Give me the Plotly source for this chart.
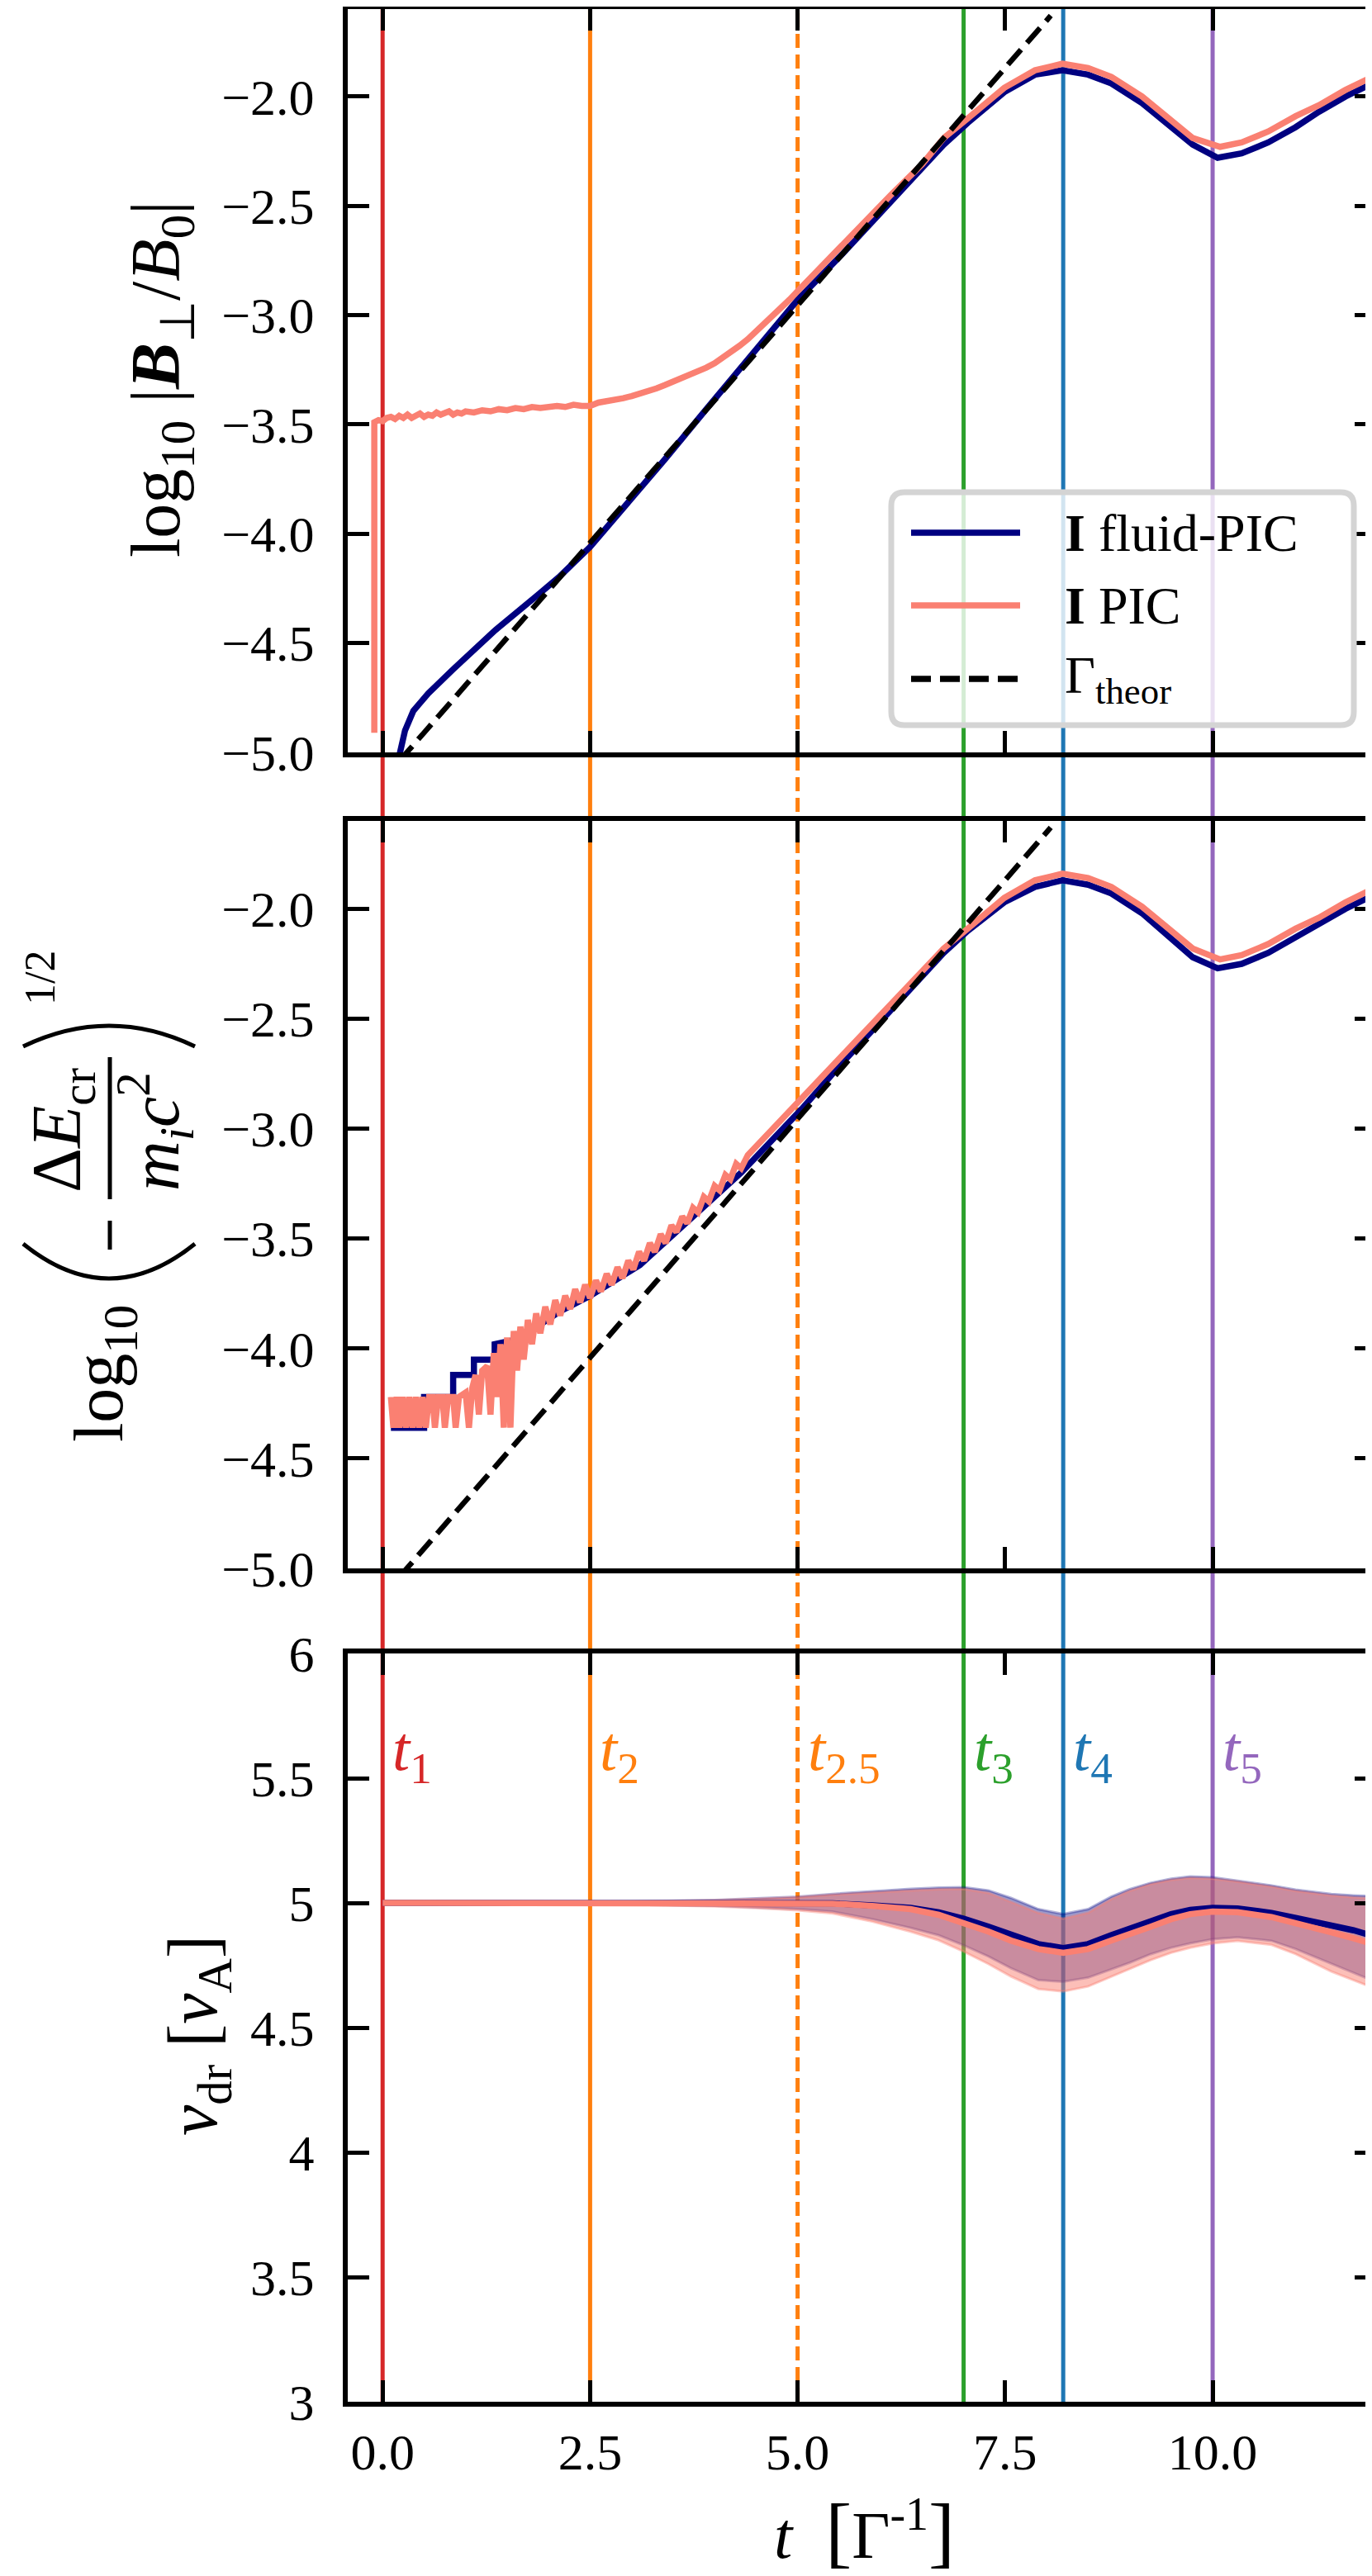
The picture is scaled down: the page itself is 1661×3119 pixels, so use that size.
import plotly.graph_objects as go

# ---------------- data ----------------
# top panel: log10 |B_perp / B0|
t_fluid_B = [0.18, 0.27, 0.37, 0.55, 0.85, 1.36, 1.87, 2.12, 2.50, 2.89, 3.40, 3.90, 4.41, 5.00,
             5.54, 6.15, 6.76, 7.05, 7.49, 7.86, 8.19, 8.50, 8.78, 9.15, 9.50, 9.76, 10.06,
             10.35, 10.67, 11.00, 11.28, 11.60, 11.98]
y_fluid_B = [-5.05, -4.90, -4.81, -4.73, -4.62, -4.44, -4.28, -4.20, -4.06, -3.89, -3.66, -3.43,
             -3.20, -2.93, -2.72, -2.47, -2.22, -2.12, -1.98, -1.90, -1.88, -1.90, -1.94, -2.03,
             -2.14, -2.22, -2.28, -2.26, -2.21, -2.14, -2.07, -2.00, -1.93]

t_pic_B = [-0.10, -0.10, -0.05, 0.00, 0.05, 0.10, 0.15, 0.20, 0.25, 0.30, 0.35, 0.40, 0.45, 0.50,
           0.55, 0.60, 0.65, 0.70, 0.75, 0.80, 0.85, 0.90, 0.95, 1.00, 1.10, 1.20, 1.30, 1.40,
           1.50, 1.60, 1.70, 1.80, 1.90, 2.00, 2.10, 2.20, 2.30, 2.40, 2.50, 2.60, 2.70, 2.80,
           2.90, 3.00, 3.10, 3.20, 3.30, 3.40, 3.50, 3.60, 3.70, 3.80, 3.90, 4.00, 4.10, 4.20,
           4.30, 4.40, 4.50, 4.60, 4.70, 4.80, 4.90, 5.00, 5.20, 5.50, 5.80, 6.15, 6.50, 6.76,
           7.05, 7.49, 7.86, 8.19, 8.50, 8.78, 9.15, 9.50, 9.76, 10.09, 10.35, 10.67, 11.00,
           11.28, 11.60, 11.98]
y_pic_B = [-4.91, -3.49, -3.48, -3.485, -3.47, -3.465, -3.475, -3.46, -3.47, -3.455, -3.47, -3.46,
           -3.45, -3.465, -3.455, -3.46, -3.445, -3.455, -3.45, -3.44, -3.455, -3.445, -3.45,
           -3.44, -3.445, -3.435, -3.44, -3.43, -3.435, -3.425, -3.43, -3.42, -3.425, -3.42,
           -3.415, -3.42, -3.41, -3.415, -3.415, -3.40, -3.395, -3.39, -3.38, -3.37, -3.36,
           -3.35, -3.335, -3.32, -3.305, -3.29, -3.275, -3.26, -3.24, -3.22, -3.195, -3.17,
           -3.14, -3.11, -3.075, -3.04, -3.005, -2.97, -2.93, -2.89, -2.81, -2.69, -2.575,
           -2.44, -2.31, -2.19, -2.10, -1.96, -1.88, -1.85, -1.87, -1.91, -2.00, -2.11, -2.19,
           -2.23, -2.21, -2.16, -2.09, -2.04, -1.97, -1.90]

# theoretical growth (straight line in log space)
t_theor = [0.20, 8.05]
y_theor = [-5.04, -1.63]

# middle panel: log10 (-dE_cr / m_i c^2)^(1/2)
t_fluid_E = [0.10, 0.50, 0.50, 0.85, 0.85, 1.10, 1.10, 1.35, 1.35, 1.60, 1.90, 2.14, 2.50, 3.10,
             3.71, 4.32, 5.05, 5.54, 6.15, 6.76, 7.05, 7.49, 7.86, 8.19, 8.50, 8.78, 9.15, 9.50,
             9.76, 10.06, 10.35, 10.67, 11.00, 11.28, 11.60, 11.98]
y_fluid_E = [-4.36, -4.36, -4.22, -4.22, -4.12, -4.12, -4.05, -4.05, -3.98, -3.96, -3.89, -3.83,
             -3.76, -3.62, -3.41, -3.20, -2.91, -2.70, -2.45, -2.20, -2.10, -1.97, -1.90, -1.87,
             -1.89, -1.93, -2.02, -2.13, -2.22, -2.27, -2.25, -2.20, -2.13, -2.07, -2.00, -1.93]

t_pic_E = [0.10, 0.13, 0.17, 0.20, 0.24, 0.28, 0.32, 0.36, 0.40, 0.44, 0.48, 0.52, 0.56, 0.60,
           0.63, 0.67, 0.72, 0.75, 0.79, 0.85, 0.88, 0.92, 1.00, 1.04, 1.08, 1.12, 1.16, 1.20,
           1.26, 1.30, 1.34, 1.38, 1.42, 1.46, 1.50, 1.54, 1.58, 1.62, 1.66, 1.70, 1.75, 1.80,
           1.85, 1.90, 1.96, 2.02, 2.08, 2.14, 2.20, 2.26, 2.32, 2.38, 2.44, 2.50, 2.57, 2.63,
           2.70, 2.76, 2.83, 2.89, 2.96, 3.02, 3.09, 3.15, 3.22, 3.28, 3.35, 3.41, 3.48, 3.54,
           3.61, 3.67, 3.74, 3.80, 3.87, 3.93, 4.00, 4.06, 4.13, 4.19, 4.26, 4.32, 4.40, 4.50,
           4.60, 4.70, 4.85, 5.00, 5.20, 5.50, 5.80, 6.15, 6.50, 6.76, 7.05, 7.49, 7.86, 8.19,
           8.50, 8.78, 9.15, 9.50, 9.76, 10.09, 10.35, 10.67, 11.00, 11.28, 11.60, 11.98]
y_pic_E = [-4.22, -4.36, -4.22, -4.36, -4.22, -4.36, -4.22, -4.36, -4.22, -4.36, -4.22, -4.36,
           -4.22, -4.22, -4.36, -4.22, -4.22, -4.36, -4.22, -4.22, -4.36, -4.22, -4.20, -4.36,
           -4.18, -4.12, -4.30, -4.10, -4.08, -4.30, -4.02, -4.22, -3.98, -4.36, -3.95, -4.36,
           -3.92, -4.10, -3.90, -4.05, -3.87, -3.98, -3.84, -3.93, -3.81, -3.89, -3.78, -3.85,
           -3.76, -3.82, -3.73, -3.79, -3.71, -3.77, -3.69, -3.74, -3.66, -3.71, -3.63, -3.68,
           -3.60, -3.64, -3.56, -3.60, -3.52, -3.56, -3.48, -3.52, -3.44, -3.47, -3.40, -3.43,
           -3.36, -3.38, -3.31, -3.33, -3.26, -3.28, -3.21, -3.23, -3.16, -3.18, -3.12, -3.08,
           -3.04, -3.00, -2.95, -2.89, -2.81, -2.69, -2.57, -2.43, -2.29, -2.18, -2.09, -1.95,
           -1.87, -1.84, -1.86, -1.90, -1.99, -2.10, -2.18, -2.23, -2.21, -2.16, -2.09, -2.04,
           -1.97, -1.90]

# bottom panel: drift velocity mean and spread
t_v = [0.0, 1.0, 2.0, 3.0, 4.0, 4.5, 5.0, 5.42, 5.9, 6.36, 6.7, 7.0, 7.3, 7.57, 7.9, 8.2, 8.5,
       8.78, 9.0, 9.25, 9.5, 9.73, 10.0, 10.3, 10.71, 11.0, 11.43, 11.7, 11.96]
v_fluid = [5.0, 5.0, 5.0, 5.0, 5.0, 5.0, 5.0, 4.998, 4.99, 4.98, 4.962, 4.937, 4.905, 4.871,
           4.835, 4.819, 4.835, 4.871, 4.898, 4.926, 4.955, 4.972, 4.98, 4.978, 4.96, 4.94,
           4.91, 4.89, 4.865]
v_fluid_hi = [5.0, 5.001, 5.003, 5.006, 5.012, 5.018, 5.025, 5.036, 5.047, 5.056, 5.061, 5.063,
              5.05, 5.02, 4.975, 4.955, 4.975, 5.025, 5.055, 5.08, 5.097, 5.106, 5.103, 5.09,
              5.07, 5.053, 5.036, 5.03, 5.026]
v_fluid_lo = [5.0, 4.999, 4.997, 4.994, 4.988, 4.982, 4.975, 4.965, 4.935, 4.90, 4.87, 4.83,
              4.785, 4.738, 4.69, 4.684, 4.70, 4.733, 4.76, 4.794, 4.82, 4.838, 4.854, 4.862,
              4.848, 4.815, 4.755, 4.72, 4.684]
v_pic = [5.0, 5.0, 5.0, 5.0, 5.0, 5.0, 5.0, 4.997, 4.988, 4.975, 4.952, 4.92, 4.885, 4.849,
         4.815, 4.80, 4.815, 4.849, 4.873, 4.904, 4.935, 4.955, 4.965, 4.963, 4.943, 4.92,
         4.882, 4.858, 4.832]
v_pic_hi = [5.0, 5.001, 5.003, 5.006, 5.011, 5.016, 5.022, 5.032, 5.042, 5.05, 5.055, 5.056,
            5.04, 5.005, 4.96, 4.937, 4.96, 5.015, 5.048, 5.075, 5.092, 5.1, 5.097, 5.085,
            5.065, 5.048, 5.03, 5.022, 5.018]
v_pic_lo = [5.0, 4.999, 4.997, 4.993, 4.986, 4.979, 4.97, 4.958, 4.925, 4.885, 4.85, 4.805,
            4.755, 4.705, 4.655, 4.645, 4.665, 4.705, 4.735, 4.77, 4.80, 4.82, 4.838, 4.848,
            4.832, 4.795, 4.725, 4.69, 4.656]

# marked times
t_marks = [0.0, 2.5, 5.0, 7.0, 8.2, 10.0]
mark_names = ["1", "2", "2.5", "3", "4", "5"]
mark_colors = ["#d62728", "#ff7f0e", "#ff7f0e", "#2ca02c", "#1f77b4", "#9467bd"]
mark_dashed = [False, False, True, False, False, False]

x_ticks = [0, 2.5, 5, 7.5, 10]
x_ticktext = ["0.0", "2.5", "5.0", "7.5", "10.0"]
log_ticks = [-5.0, -4.5, -4.0, -3.5, -3.0, -2.5, -2.0]
log_ticktext = ["\u22125.0", "\u22124.5", "\u22124.0", "\u22123.5", "\u22123.0", "\u22122.5", "\u22122.0"]
v_ticks = [3, 3.5, 4, 4.5, 5, 5.5, 6]
v_ticktext = ["3", "3.5", "4", "4.5", "5", "5.5", "6"]

NAVY = "#000080"
SALMON = "#fa8072"
FONT = "Liberation Serif"

# ---------------- geometry (pixels -> paper) ----------------
W, H = 1661, 3119
L, R, T, B = 413, 3, 3, 219


def px(X):
    return (X - L) / (W - L - R)


def py(Y):
    return (H - B - Y) / (H - T - B)


def label(X, Y, text, size=84, angle=-90, color="black"):
    return dict(xref="paper", yref="paper", x=px(X), y=py(Y), xanchor="center",
                yanchor="middle", textangle=angle, showarrow=False, text=text,
                font=dict(family=FONT, size=size, color=color))


fig = go.Figure()

# top
fig.add_trace(go.Scatter(x=t_fluid_B, y=y_fluid_B, mode="lines", line=dict(color=NAVY, width=7.5),
                         xaxis="x", yaxis="y", showlegend=False))
fig.add_trace(go.Scatter(x=t_pic_B, y=y_pic_B, mode="lines", line=dict(color=SALMON, width=7.5),
                         xaxis="x", yaxis="y", showlegend=False))
fig.add_trace(go.Scatter(x=t_theor, y=y_theor, mode="lines",
                         line=dict(color="black", width=6.5, dash="24px,11px"),
                         xaxis="x", yaxis="y", showlegend=False))
# middle
fig.add_trace(go.Scatter(x=t_fluid_E, y=y_fluid_E, mode="lines", line=dict(color=NAVY, width=7.5),
                         xaxis="x2", yaxis="y2", showlegend=False))
fig.add_trace(go.Scatter(x=t_pic_E, y=y_pic_E, mode="lines", line=dict(color=SALMON, width=7.5),
                         xaxis="x2", yaxis="y2", showlegend=False))
fig.add_trace(go.Scatter(x=t_theor, y=y_theor, mode="lines",
                         line=dict(color="black", width=6.5, dash="24px,11px"),
                         xaxis="x2", yaxis="y2", showlegend=False))
# bottom bands + means
fig.add_trace(go.Scatter(x=t_v + t_v[::-1], y=v_fluid_hi + v_fluid_lo[::-1], mode="lines",
                         fill="toself", fillcolor="rgba(0,0,128,0.4)",
                         line=dict(color="rgba(0,0,128,0.3)", width=3),
                         xaxis="x3", yaxis="y3", showlegend=False))
fig.add_trace(go.Scatter(x=t_v + t_v[::-1], y=v_pic_hi + v_pic_lo[::-1], mode="lines",
                         fill="toself", fillcolor="rgba(250,128,114,0.5)",
                         line=dict(color="rgba(250,128,114,0.4)", width=3),
                         xaxis="x3", yaxis="y3", showlegend=False))
fig.add_trace(go.Scatter(x=t_v, y=v_fluid, mode="lines", line=dict(color=NAVY, width=7.5),
                         xaxis="x3", yaxis="y3", showlegend=False))
fig.add_trace(go.Scatter(x=t_v, y=v_pic, mode="lines", line=dict(color=SALMON, width=7.5),
                         xaxis="x3", yaxis="y3", showlegend=False))

shapes = []
annotations = []

# marked-time vertical lines spanning all panels
for t, c, d in zip(t_marks, mark_colors, mark_dashed):
    shapes.append(dict(type="line", xref="x", yref="paper", x0=t, x1=t, y0=0, y1=1,
                       line=dict(color=c, width=5, dash="17px,8px" if d else "solid"),
                       layer="below"))

for t, n, c in zip(t_marks, mark_names, mark_colors):
    annotations.append(dict(xref="x3", yref="y3", x=t + 0.1, y=5.60, xanchor="left",
                            yanchor="middle", showarrow=False,
                            text="<i>t</i><sub>%s</sub>" % n,
                            font=dict(family=FONT, size=76, color=c)))

# legend (drawn by hand to get the rounded frame)
lx0, lx1, ly0, ly1, rr = 1071, 1631, 588, 870, 16
rx = rr / (W - L - R)
ry = rr / (H - T - B)
X0, X1, Y0, Y1 = px(lx0), px(lx1), py(ly1), py(ly0)
path = ("M %f,%f L %f,%f Q %f,%f %f,%f L %f,%f Q %f,%f %f,%f L %f,%f Q %f,%f %f,%f "
        "L %f,%f Q %f,%f %f,%f Z") % (
    X0 + rx, Y0, X1 - rx, Y0, X1, Y0, X1, Y0 + ry, X1, Y1 - ry, X1, Y1, X1 - rx, Y1,
    X0 + rx, Y1, X0, Y1, X0, Y1 - ry, X0, Y0 + ry, X0, Y0, X0 + rx, Y0)
shapes.append(dict(type="path", xref="paper", yref="paper", path=path,
                   fillcolor="rgba(255,255,255,0.8)", line=dict(color="#d4d4d4", width=7),
                   layer="above"))
leg_rows = [(637, NAVY, "solid", "<b>I</b> fluid-PIC"),
            (725, SALMON, "solid", "<b>I</b> PIC"),
            (814, "black", "24px,11px", "\u0393<sub>theor</sub>")]
for Y, c, d, txt in leg_rows:
    shapes.append(dict(type="line", xref="paper", yref="paper", x0=px(1095), x1=px(1227),
                       y0=py(Y), y1=py(Y), line=dict(color=c, width=7.5, dash=d), layer="above"))
    annotations.append(dict(xref="paper", yref="paper", x=px(1279), y=py(Y), xanchor="left",
                            yanchor="middle", showarrow=False, text=txt,
                            font=dict(family=FONT, size=64, color="black")))

# axis titles
annotations.append(label(187, 451,
                         "log<sub>10</sub> |<b><i>B</i></b><sub>\u22a5</sub>/<i>B</i><sub>0</sub>|"))
annotations.append(label(232, 2457, "<i>v</i><sub>dr</sub> [<i>v</i><sub>A</sub>]"))
annotations.append(label(1038, 3056,
                         '<i>t</i>  <span style="font-size:96px">[</span>\u0393<sup>-1</sup>'
                         '<span style="font-size:96px">]</span>', size=80, angle=0))

# middle y title built from pieces
annotations.append(label(118, 1655, "log<sub>10</sub>"))
annotations.append(label(67, 1361, "\u0394<i>E</i><sub>cr</sub>"))
annotations.append(label(180, 1362, "<i>m<sub>i</sub>c</i><sup>2</sup>"))
annotations.append(label(40, 1176, "1/2", size=52))
shapes.append(dict(type="line", xref="paper", yref="paper", x0=px(125), x1=px(125),
                   y0=py(1444), y1=py(1272), line=dict(color="black", width=5)))
shapes.append(dict(type="line", xref="paper", yref="paper", x0=px(125), x1=px(125),
                   y0=py(1505), y1=py(1470), line=dict(color="black", width=5)))
# big parentheses
for ends, ctrl in [(1498, 1582), (1259, 1209)]:
    shapes.append(dict(type="path", xref="paper", yref="paper",
                       path="M %f,%f Q %f,%f %f,%f" % (px(20), py(ends), px(124), py(ctrl),
                                                      px(228), py(ends)),
                       line=dict(color="black", width=5)))

axis_common = dict(showline=True, linewidth=6, linecolor="black", mirror="allticks",
                   ticks="inside", ticklen=26, tickwidth=5, tickcolor="black",
                   showgrid=False, zeroline=False, automargin=False,
                   tickfont=dict(family=FONT, size=62, color="black"))

fig.update_layout(
    template="none",
    width=W, height=H,
    margin=dict(l=L, r=R, t=T, b=B, pad=0),
    paper_bgcolor="white", plot_bgcolor="rgba(0,0,0,0)",
    showlegend=False,
    xaxis=dict(domain=[0, 1], anchor="y", range=[-0.42, 11.97], tickvals=x_ticks,
               showticklabels=False, **axis_common),
    xaxis2=dict(domain=[0, 1], anchor="y2", range=[-0.42, 11.97], tickvals=x_ticks,
                showticklabels=False, matches="x", **axis_common),
    xaxis3=dict(domain=[0, 1], anchor="y3", range=[-0.42, 11.97], tickvals=x_ticks,
                ticktext=x_ticktext, matches="x", ticklabelstandoff=2, **axis_common),
    yaxis=dict(domain=[py(903), 1.0], anchor="x", range=[-5.0, -1.6], tickvals=log_ticks,
               ticktext=log_ticktext, ticklabelstandoff=22, **axis_common),
    yaxis2=dict(domain=[py(1891), py(986)], anchor="x2", range=[-5.0, -1.6], tickvals=log_ticks,
                ticktext=log_ticktext, ticklabelstandoff=22, **axis_common),
    yaxis3=dict(domain=[0, py(1994)], anchor="x3", range=[3, 6], tickvals=v_ticks,
                ticktext=v_ticktext, ticklabelstandoff=22, **axis_common),
    shapes=shapes,
    annotations=annotations,
)

fig.write_html("out.html")
